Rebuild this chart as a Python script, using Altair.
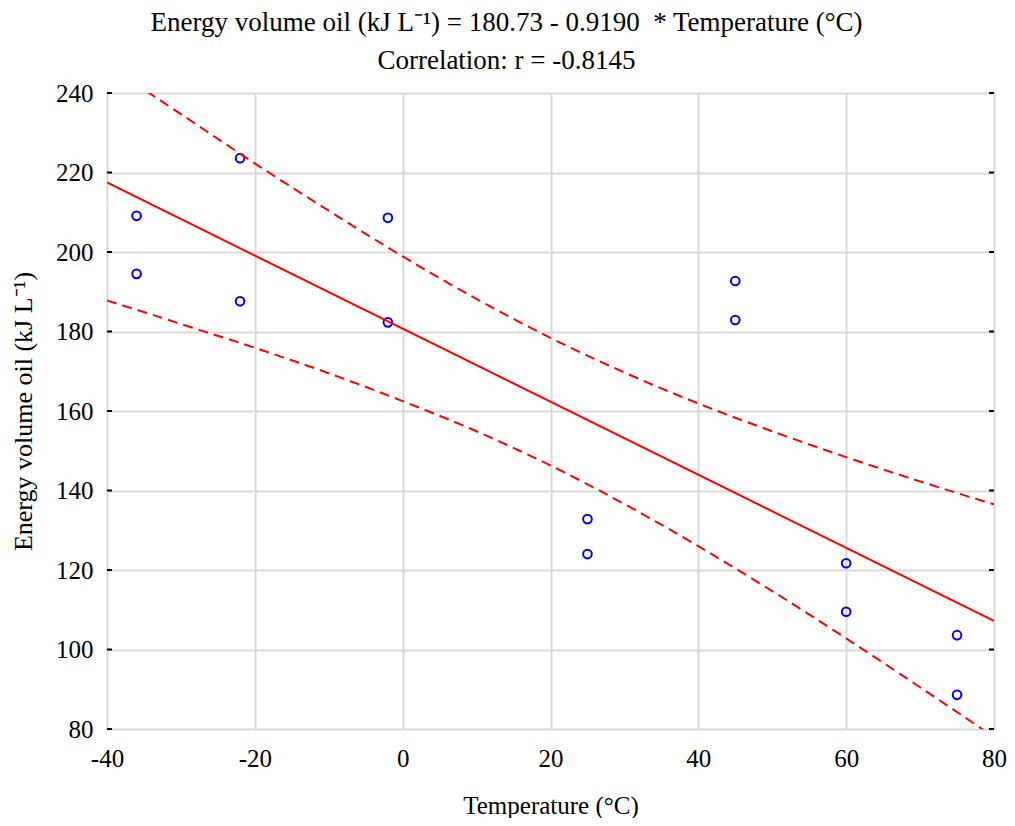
import altair as alt
import pandas as pd

# observed points
temp = [-36, -36, -22, -22, -2, -2, 25, 25, 45, 45, 60, 60, 75, 75]
energy = [209.1, 194.5, 223.6, 187.6, 208.6, 182.3, 132.8, 124.0,
          192.7, 182.9, 121.7, 109.5, 103.6, 88.6]

# fitted line (endpoints)
fit_x = [-40, 80]
fit_y = [217.5, 107.2]

# 95% confidence band
band_x = [-40, -35, -30, -20, -10, 0, 10, 20, 30, 40, 50, 60, 70, 80]
band_upper = [247.2, 240.9, 234.7, 222.3, 210.4, 198.9, 188.2, 178.4,
              169.7, 161.9, 154.9, 148.4, 142.3, 136.5]
band_lower = [187.8, 184.9, 181.9, 175.9, 169.5, 162.5, 154.9, 146.3,
              136.6, 126.0, 114.7, 102.8, 90.5, 78.0]

x_ticks = [-40, -20, 0, 20, 40, 60, 80]
y_ticks = [80, 100, 120, 140, 160, 180, 200, 220, 240]

FONT = "Liberation Serif"
W, H = 887, 636

pts = pd.DataFrame({"t": temp, "e": energy})
fit = pd.DataFrame({"t": fit_x, "e": fit_y})
band = pd.DataFrame({"t": band_x * 2, "e": band_upper + band_lower,
                     "side": ["upper"] * len(band_x) + ["lower"] * len(band_x)})
yt = pd.DataFrame({"e": y_ticks})

xscale = alt.Scale(domain=[-40, 80], nice=False, zero=False)
yscale = alt.Scale(domain=[80, 240], nice=False, zero=False)

xaxis = alt.Axis(values=x_ticks, title="Temperature (°C)", grid=True,
                 gridColor="#d9d9d9", gridWidth=2, tickSize=0, domain=False,
                 labelExpr="'' + datum.value",
                 labelPadding=17, titlePadding=22, labelFontSize=25,
                 titleFontSize=25, labelFont=FONT, titleFont=FONT,
                 titleFontWeight="normal", labelColor="black",
                 titleColor="black", labelFlush=False)
yaxis = alt.Axis(values=y_ticks, title="Energy volume oil (kJ L⁻¹)", grid=True,
                 gridColor="#d9d9d9", gridWidth=2, tickSize=0, domain=False,
                 labelExpr="'' + datum.value",
                 labelPadding=14, titlePadding=19, labelFontSize=25,
                 titleFontSize=26, labelFont=FONT, titleFont=FONT,
                 titleFontWeight="normal", labelColor="black",
                 titleColor="black", labelFlush=False)

base_pts = alt.Chart(pts).mark_point(
    shape="circle", filled=False, color="#0000ff", size=75, strokeWidth=2,
    opacity=1
).encode(
    x=alt.X("t:Q", scale=xscale, axis=xaxis),
    y=alt.Y("e:Q", scale=yscale, axis=yaxis),
)

fit_line = alt.Chart(fit).mark_line(color="#ff0000", strokeWidth=2, clip=True).encode(
    x=alt.X("t:Q", scale=xscale), y=alt.Y("e:Q", scale=yscale)
)

band_lines = alt.Chart(band).mark_line(
    color="#ff0000", strokeWidth=2, strokeDash=[10, 6], clip=True,
    interpolate="monotone"
).encode(
    x=alt.X("t:Q", scale=xscale), y=alt.Y("e:Q", scale=yscale),
    detail="side:N"
)

# short inward ticks on left and right frame edges
tick_len = 5
ly = alt.Chart(yt).mark_rule(color="black", strokeWidth=2).encode(
    y=alt.Y("e:Q", scale=yscale), x=alt.value(0), x2=alt.value(tick_len))
ry = alt.Chart(yt).mark_rule(color="black", strokeWidth=2).encode(
    y=alt.Y("e:Q", scale=yscale), x=alt.value(W), x2=alt.value(W - tick_len))

chart = alt.layer(base_pts, band_lines, fit_line, ly, ry).properties(
    width=W, height=H,
    title=alt.Title(
        ["Energy volume oil (kJ L⁻¹) = 180.73 - 0.9190\u00a0 * Temperature (°C)",
         "Correlation: r = -0.8145"],
        font=FONT, fontSize=27, fontWeight="normal", color="black",
        lineHeight=38, offset=6, anchor="middle", dx=-44),
    autosize=alt.AutoSizeParams(type="none"),
    padding={"left": 99, "top": 85, "right": 13, "bottom": 89},
).configure_view(stroke="black", strokeWidth=2).configure(background="white")

chart.save("out.html", embed_options={"renderer": "svg", "actions": False})
